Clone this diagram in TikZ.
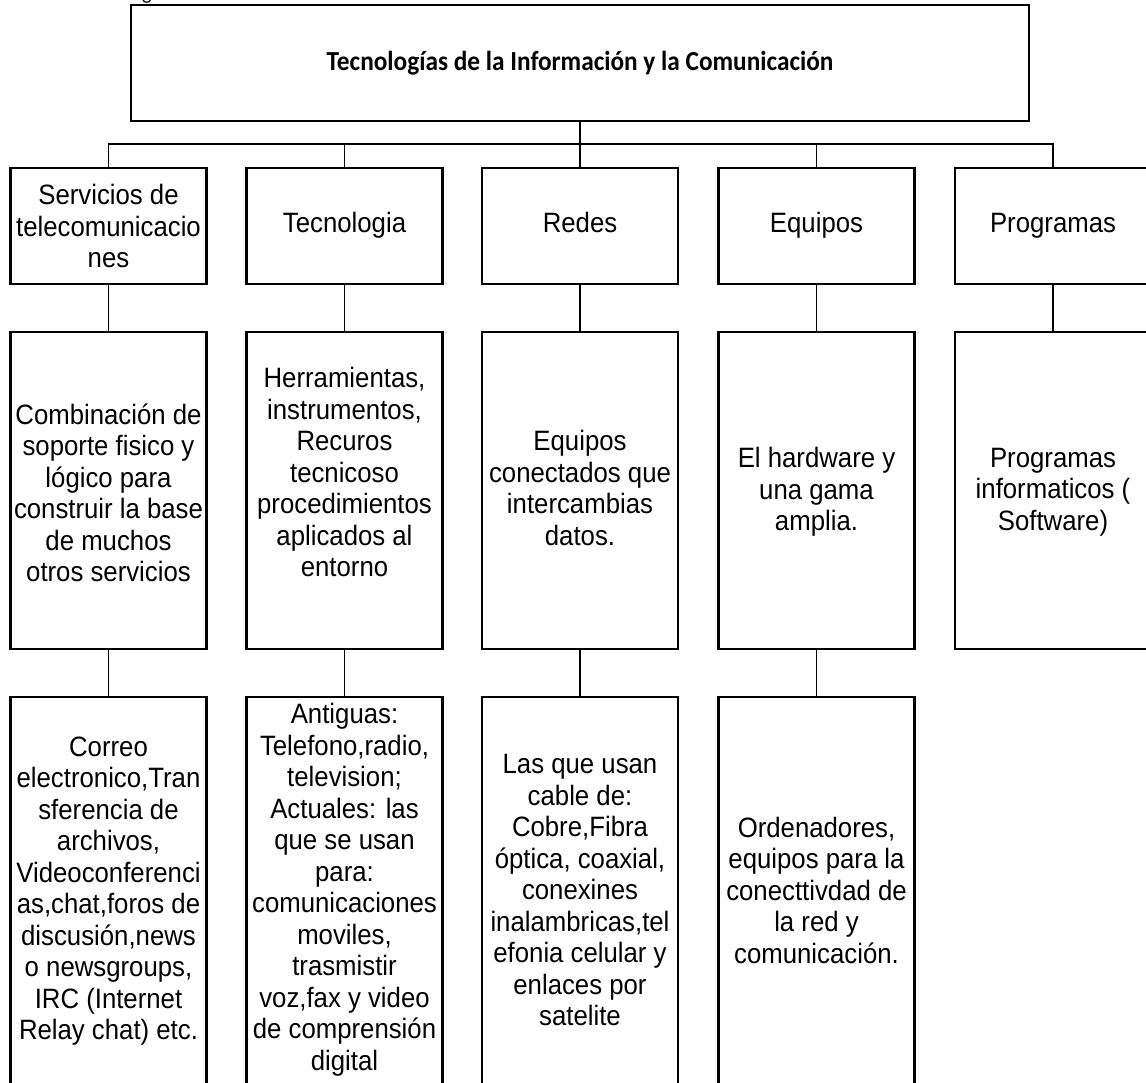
\documentclass[tikz,border=0pt]{standalone}
\usepackage{fontspec}
\setmainfont{Liberation Sans}[FakeStretch=0.92]
\newfontfamily\titlefont{Carlito}[FakeStretch=0.92]
\usetikzlibrary{calc}

\newcommand\bodysize{\fontsize{28}{31.5}\selectfont}

\begin{document}
\begin{tikzpicture}[x=1pt, y=-1pt,
  box/.style={draw, line width=2.1pt, rectangle, inner sep=0pt, align=center, font=\bodysize},
  headbox/.style={box, minimum width=196pt, minimum height=116pt},
  descbox/.style={box, minimum width=196pt, minimum height=317pt},
  detailbox/.style={box, minimum width=196pt, minimum height=396pt},
  txt/.style={align=center, inner sep=0pt, font=\bodysize},
  link/.style={line width=1.8pt}]

\useasboundingbox (0,0) rectangle (1146,1083);

% caption fragment above the chart
\node[anchor=base, inner sep=0pt] (capfrag) at (147,0) {\titlefont\fontsize{22}{26}\selectfont g};

% root
\node[box, minimum width=898pt, minimum height=116pt] (root) at (580,63) {};
\node[inner sep=0pt, font=\titlefont\bfseries\fontsize{27.5}{30}\selectfont] (roottext) at (580,65)
  {\strut Tecnologías de la Información y la Comunicación};

% first level
\node[headbox] (h1) at (108.5,226) {Servicios de\\telecomunicacio\\nes};
\node[headbox] (h2) at (344.5,226) {\strut Tecnologia};
\node[headbox] (h3) at (580,226)   {\strut Redes};
\node[headbox] (h4) at (816.5,226) {\strut Equipos};
\node[headbox] (h5) at (1053,226)  {\strut Programas};

% second level
\node[descbox] (d1) at (108.5,490.5) {};
\node[descbox] (d2) at (344.5,490.5) {};
\node[descbox] (d3) at (580,490.5)   {};
\node[descbox] (d4) at (816.5,490.5) {};
\node[descbox] (d5) at (1053,490.5)  {};

\node[txt] (d1t) at (108.5,493) {Combinación de\\soporte fisico y\\lógico para\\construir la base\\de muchos\\otros servicios};
\node[txt] (d2t) at (344.5,472) {Herramientas,\\instrumentos,\\Recuros\\tecnicoso\\procedimientos\\aplicados al\\entorno};
\node[txt] (d3t) at (580,488)   {Equipos\\conectados que\\intercambias\\datos.};
\node[txt] (d4t) at (816.5,492) {El hardware y\\una gama\\amplia.};
\node[txt] (d5t) at (1053,492)  {Programas\\informaticos (\\Software)};

% third level
\node[detailbox] (e1) at (108.5,895) {};
\node[detailbox] (e2) at (344.5,895) {};
\node[detailbox] (e3) at (580,895)   {};
\node[detailbox] (e4) at (816.5,895) {};

\node[txt] (e1t) at (108.5,891) {Correo\\electronico,Tran\\sferencia de\\archivos,\\Videoconferenci\\as,chat,foros de\\discusión,news\\o newsgroups,\\IRC (Internet\\Relay chat) etc.};
\node[txt] (e2t) at (344.5,890) {Antiguas:\\Telefono,radio,\\television;\\Actuales: las\\que se usan\\para:\\comunicaciones\\moviles,\\trasmistir\\voz,fax y video\\de comprensión\\digital};
\node[txt] (e3t) at (580,890)   {Las que usan\\cable de:\\Cobre,Fibra\\óptica, coaxial,\\conexines\\inalambricas,tel\\efonia celular y\\enlaces por\\satelite};
\node[txt] (e4t) at (816.5,890) {Ordenadores,\\equipos para la\\conecttivdad de\\la red y\\comunicación.};

% connectors
\coordinate (bus) at (580,144);
\draw[link] (root.south) -- (bus);
\draw[link] (h1.north) |- (bus) -| (h5.north);
\foreach \n in {h2,h3,h4} \draw[link] (\n.north) -- (\n.north |- bus);
\foreach \i in {1,...,5} \draw[link] (h\i.south) -- (d\i.north);
\foreach \i in {1,...,4} \draw[link] (d\i.south) -- (e\i.north);
\end{tikzpicture}
\end{document}
